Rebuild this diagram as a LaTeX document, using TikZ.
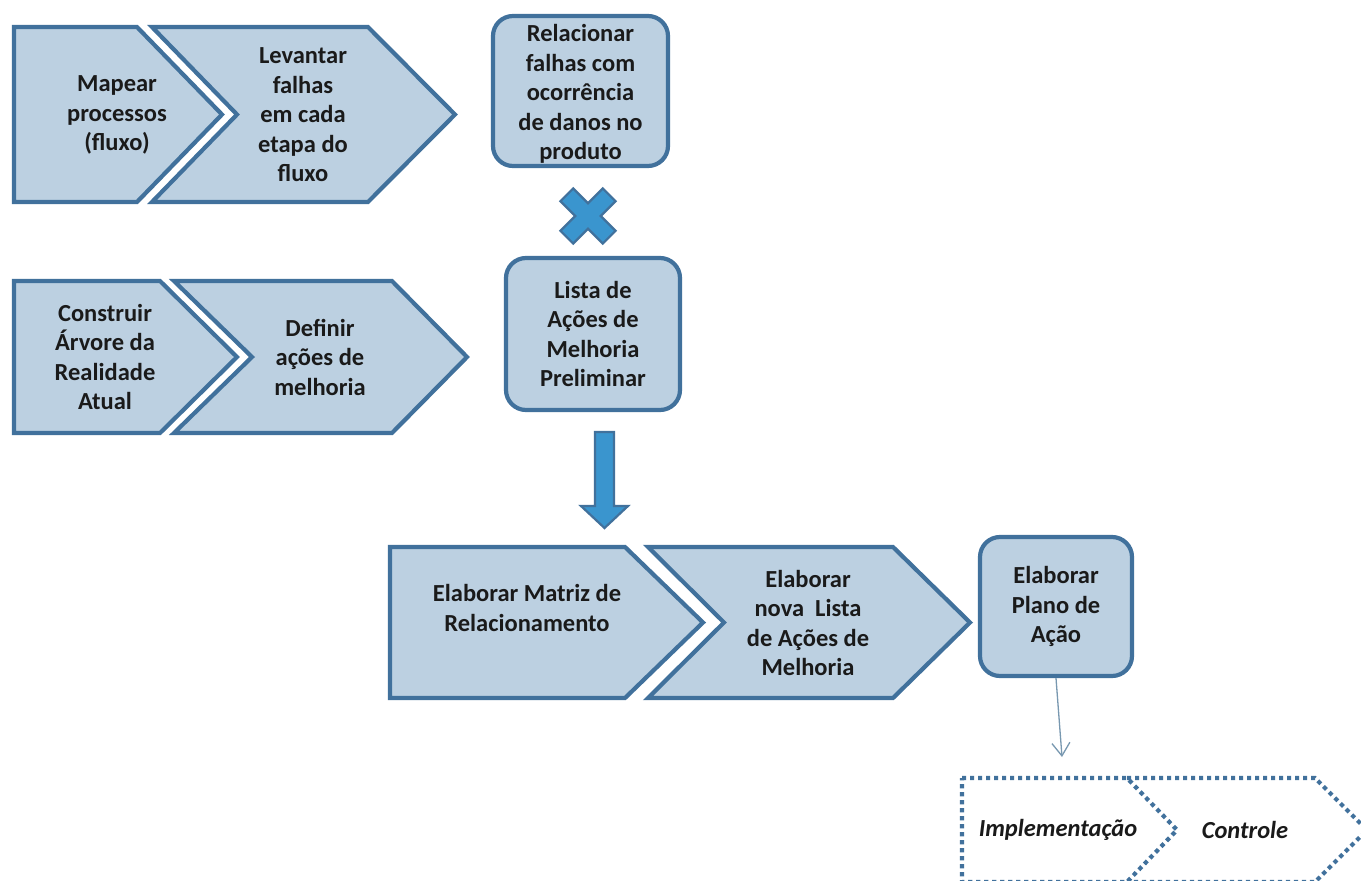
\documentclass[tikz,border=0pt]{standalone}
\usepackage{fontspec}
\setmainfont{Carlito}
\usetikzlibrary{arrows.meta}
\definecolor{boxfill}{HTML}{BCD0E1}
\definecolor{boxline}{HTML}{41719C}
\definecolor{xfill}{HTML}{3A95CE}
\definecolor{txt}{HTML}{1A1A1A}
\definecolor{thinarrow}{HTML}{7898B0}
\tikzset{
  chev/.style={fill=boxfill,draw=boxline,line width=4.2pt,line join=miter},
  dotchev/.style={draw=boxline,line width=4.2pt,dash pattern=on 4.2pt off 3.8pt},
  lbl/.style={text=txt,font=\fontsize{24.5}{29.5}\selectfont\bfseries,align=center,inner sep=0pt},
  ilbl/.style={text=txt,font=\fontsize{24.5}{29.5}\selectfont\bfseries\itshape,align=center,inner sep=0pt},
  rbox/.style={fill=boxfill,draw=boxline,line width=4.2pt,rounded corners=20pt,text=txt,
    font=\fontsize{24.5}{29.5}\selectfont\bfseries,align=center,inner sep=0pt},
  bigarrow/.style={fill=xfill,draw=boxline,line width=2.2pt,line join=miter},
  thin/.style={draw=thinarrow,line width=1.3pt,-{Straight Barb[length=13pt,width=18pt,line width=1.3pt]}}
}
% #1 style, #2 left x, #3 top y, #4 top-right corner x, #5 bottom y, #6 tip x, #7 notch x
\newcommand\mychev[7][chev]{%
  \path[#1] (#2,#3) -- (#4,#3) -- (#6,{(#3+#5)/2}) -- (#4,#5) -- (#2,#5) -- (#7,{(#3+#5)/2}) -- cycle;}
\begin{document}
\begin{tikzpicture}[x=1pt,y=-1pt]
\useasboundingbox (0,0) rectangle (1361,881);
\fill[white] (0,0) rectangle (1361,881);

% row 1
\mychev{14}{27}{137}{202}{222}{14}
\mychev{152}{27}{368}{202}{455}{237}
\node[lbl] (mapear) at (117,115) {Mapear\\processos\\(fluxo)};
\node[lbl] (levantar) at (303,115) {Levantar\\falhas\\em cada\\etapa do\\fluxo};
\node[rbox,minimum width=175pt,minimum height=150pt] (relacionar) at (580.5,91) {};
\node[lbl] (relacionartxt) at (580.5,94) {Relacionar\\falhas com\\ocorrência\\de danos no\\produto};

% X mark
\begin{scope}[shift={(588,216)},rotate=45]
  \path[bigarrow] (30,9) -- (9,9) -- (9,30) -- (-9,30) -- (-9,9) -- (-30,9) -- (-30,-9) -- (-9,-9) -- (-9,-30) -- (9,-30) -- (9,-9) -- (30,-9) -- cycle;
\end{scope}

% row 2
\mychev{14}{281}{160}{433}{237}{14}
\mychev{174}{281}{392}{433}{467}{252}
\node[lbl] (construir) at (105,357) {Construir\\Árvore da\\Realidade\\Atual};
\node[lbl] (definir) at (320,357) {Definir\\ações de\\melhoria};
\node[rbox,minimum width=174pt,minimum height=152pt] (lista) at (593,334) {Lista de\\Ações de\\Melhoria\\Preliminar};

% down arrow
\path[bigarrow] (595,432) -- (614,432) -- (614,506) -- (628,506) -- (604.5,528) -- (581,506) -- (595,506) -- cycle;

% row 3
\mychev{390}{547}{625}{698}{703}{390}
\mychev{648}{547}{893}{698}{970}{724}
\node[lbl] (matriz) at (527,608) {Elaborar Matriz de\\Relacionamento};
\node[lbl] (novalista) at (808,623) {Elaborar\\nova~ Lista\\de Ações de\\Melhoria};
\node[rbox,minimum width=152pt,minimum height=139pt] (plano) at (1056,606.5) {Elaborar\\Plano de\\Ação};

% dotted chevrons
\begin{scope}
\clip (0,0) rectangle (1361,881);
\mychev[dotchev]{962}{778}{1127}{882}{1177}{962}
\path[dotchev] (1127,778) -- (1315,778) -- (1367,830) -- (1315,882) -- (1127,882);
\end{scope}
\node[ilbl] (impl) at (1058,830) {Implementação};
\node[ilbl] (controle) at (1245,830) {Controle};

% thin arrow
\coordinate (pa) at (1062,757);
\draw[thin] (plano.south) -- (pa);
\end{tikzpicture}
\end{document}
